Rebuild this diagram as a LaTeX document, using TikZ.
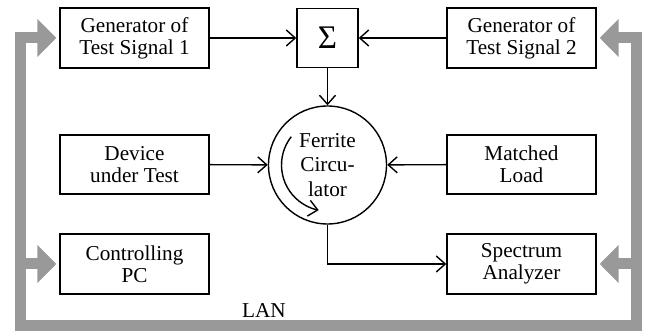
\documentclass[tikz,border=0pt]{standalone}
\usepackage{fontspec}
\setmainfont{Liberation Serif}
\usetikzlibrary{arrows.meta}

\tikzset{
    block/.style={draw, line width=0.7pt, minimum width=74.5pt, minimum height=30pt,
        inner sep=0pt, align=center, font=\fontsize{10.6}{10.9}\selectfont},
    sig/.style={line width=0.7pt, -{Straight Barb[length=4.5pt,width=8pt,line width=0.7pt]}},
    bus/.style={draw=black!40, line width=5.5pt, shorten >=1.5pt, shorten <=1.5pt},
    bushead/.tip={Triangle[length=9.5pt,width=18.5pt]}
}

\begin{document}
\begin{tikzpicture}[x=0.5pt,y=0.5pt]
    \useasboundingbox (0,0) rectangle (649,332);
    \node[block] (gen1) at (134.5,294) {Generator of\\Test Signal 1};
    \node[block, minimum width=30.5pt, minimum height=29.5pt, font=\fontsize{16.5}{17}\selectfont] (sum) at (327.5,294) {Σ};
    \node[block] (gen2) at (521.5,294) {Generator of\\Test Signal 2};
    \node[block, minimum height=29.5pt] (dut) at (134.5,167.5) {Device\\under Test};
    \node[draw, circle, line width=0.7pt, minimum size=59pt, inner sep=0pt, align=center,
        font=\fontsize{10.6}{12.4}\selectfont] (circ) at (327.5,167) {Ferrite\\Circu-\\lator};
    \node[block, minimum height=29.5pt] (load) at (521.5,167.5) {Matched\\Load};
    \node[block] (pc) at (134.5,68) {Controlling\\PC};
    \node[block] (spec) at (521.5,68) {Spectrum\\Analyzer};
    \coordinate (busbl) at (20.5,6.5);
    \coordinate (busbr) at (636,6.5);
    \node[font=\fontsize{10.6}{10.9}\selectfont] (lan) at (264,21) {LAN};

    \draw[sig] (gen1) -- (sum);
    \draw[sig] (gen2) -- (sum);
    \draw[sig] (sum) -- (circ);
    \draw[sig] (dut) -- (circ);
    \draw[sig] (load) -- (circ);
    \draw[sig] (circ.south) |- (spec.west);
    \draw[sig] ([shift={(142:23pt)}]circ.center) arc[start angle=142, end angle=259, radius=23pt];

    \draw[bus, bushead-bushead] (gen1.west) -| (busbl) -- (busbr) |- (gen2.east);
    \draw[bus, -bushead] (busbl |- pc.west) -- (pc.west);
    \draw[bus, -bushead] (busbr |- spec.east) -- (spec.east);
\end{tikzpicture}
\end{document}
